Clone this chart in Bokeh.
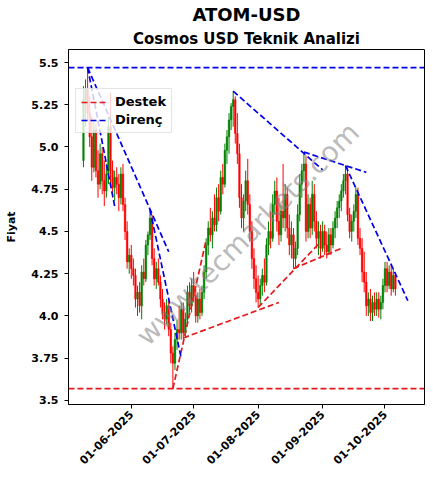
import math
import pandas as pd
from bokeh.plotting import figure
from bokeh.models import (Range1d, FixedTicker, DatetimeTickFormatter, Span, Label,
                          Legend, LegendItem, ColumnDataSource, Title)
from bokeh.embed import file_html
from bokeh.resources import INLINE

# ---------------- data ----------------
first_day = "2025-05-09"
opens = [4.92, 5.28, 5.34, 5.20, 5.06, 4.88, 5.10, 4.86, 4.78, 4.96,
         4.80, 4.74, 4.84, 5.12, 4.86, 4.76, 4.82, 4.78, 4.70, 4.84,
         4.66, 4.50, 4.32, 4.36, 4.28, 4.24, 4.10, 4.14, 4.06, 4.26,
         4.22, 4.42, 4.48, 4.58, 4.34, 4.22, 4.28, 4.20, 4.10, 4.02,
         3.98, 4.06, 3.92, 3.78, 3.72, 3.86, 3.92, 3.90, 4.04, 3.90,
         3.98, 4.14, 4.06, 4.18, 4.12, 4.00, 4.10, 4.02, 4.14, 4.26,
         4.42, 4.52, 4.48, 4.58, 4.54, 4.70, 4.62, 4.82, 4.78, 4.98,
         5.06, 5.16, 5.24, 5.28, 5.08, 4.96, 4.70, 4.58, 4.68, 4.80,
         4.66, 4.50, 4.34, 4.22, 4.14, 4.10, 4.18, 4.24, 4.20, 4.42,
         4.50, 4.46, 4.66, 4.74, 4.56, 4.48, 4.62, 4.58, 4.72, 4.52,
         4.42, 4.48, 4.34, 4.40, 4.60, 4.78, 4.86, 4.90, 4.50, 4.66,
         4.52, 4.72, 4.56, 4.46, 4.50, 4.40, 4.50, 4.42, 4.38, 4.48,
         4.42, 4.52, 4.58, 4.64, 4.68, 4.74, 4.80, 4.84, 4.60, 4.50,
         4.56, 4.62, 4.72, 4.46, 4.40, 4.26, 4.20, 4.06, 4.10, 4.02,
         4.08, 4.04, 4.10, 4.04, 4.08, 4.18, 4.28, 4.18, 4.26, 4.16,
         4.24]
highs = [5.36, 5.40, 5.47, 5.30, 5.18, 5.16, 5.14, 4.98, 5.02, 5.00,
         4.92, 4.90, 5.18, 5.32, 4.92, 4.86, 4.88, 4.84, 4.88, 4.90,
         4.70, 4.56, 4.40, 4.42, 4.34, 4.28, 4.18, 4.20, 4.30, 4.34,
         4.45, 4.50, 4.63, 4.60, 4.40, 4.32, 4.34, 4.24, 4.16, 4.08,
         4.10, 4.10, 3.96, 3.82, 3.90, 3.98, 4.06, 4.08, 4.08, 4.02,
         4.18, 4.20, 4.22, 4.26, 4.16, 4.14, 4.16, 4.18, 4.30, 4.46,
         4.56, 4.64, 4.62, 4.72, 4.76, 4.78, 4.86, 4.90, 5.02, 5.10,
         5.20, 5.26, 5.33, 5.30, 5.20, 5.02, 4.78, 4.72, 4.86, 4.93,
         4.72, 4.56, 4.40, 4.30, 4.24, 4.22, 4.28, 4.34, 4.46, 4.56,
         4.62, 4.72, 4.80, 4.82, 4.70, 4.66, 4.90, 4.78, 4.76, 4.60,
         4.56, 4.52, 4.44, 4.66, 4.84, 4.90, 4.96, 4.95, 4.72, 4.70,
         4.80, 4.78, 4.62, 4.56, 4.54, 4.56, 4.54, 4.50, 4.52, 4.52,
         4.56, 4.62, 4.68, 4.72, 4.78, 4.84, 4.89, 4.88, 4.64, 4.60,
         4.66, 4.76, 4.76, 4.52, 4.46, 4.38, 4.26, 4.14, 4.16, 4.12,
         4.14, 4.14, 4.14, 4.12, 4.22, 4.32, 4.32, 4.30, 4.30, 4.28,
         4.26]
lows = [4.88, 5.12, 5.15, 5.00, 4.80, 4.85, 4.82, 4.70, 4.75, 4.72,
        4.65, 4.70, 4.78, 4.78, 4.70, 4.68, 4.72, 4.62, 4.66, 4.62,
        4.45, 4.28, 4.25, 4.22, 4.18, 4.05, 4.00, 4.02, 3.98, 4.18,
        4.20, 4.36, 4.45, 4.30, 4.18, 4.16, 4.18, 4.05, 3.98, 3.92,
        3.95, 3.88, 3.72, 3.57, 3.68, 3.80, 3.86, 3.86, 3.86, 3.87,
        3.94, 4.02, 4.02, 4.08, 3.96, 3.96, 3.98, 4.00, 4.10, 4.22,
        4.36, 4.44, 4.40, 4.50, 4.50, 4.56, 4.60, 4.72, 4.76, 4.90,
        4.96, 5.10, 5.12, 5.02, 4.90, 4.64, 4.52, 4.50, 4.62, 4.60,
        4.44, 4.28, 4.16, 4.08, 4.05, 4.06, 4.12, 4.14, 4.18, 4.36,
        4.40, 4.44, 4.60, 4.50, 4.42, 4.44, 4.52, 4.50, 4.46, 4.36,
        4.34, 4.28, 4.29, 4.36, 4.56, 4.70, 4.80, 4.44, 4.46, 4.46,
        4.48, 4.50, 4.40, 4.36, 4.34, 4.38, 4.36, 4.34, 4.36, 4.36,
        4.40, 4.46, 4.52, 4.58, 4.62, 4.70, 4.72, 4.56, 4.46, 4.44,
        4.50, 4.58, 4.42, 4.36, 4.20, 4.14, 4.00, 4.00, 3.97, 3.97,
        4.00, 4.00, 3.99, 3.98, 4.04, 4.14, 4.14, 4.16, 4.12, 4.14,
        4.12]
closes = [5.28, 5.34, 5.20, 5.06, 4.88, 5.10, 4.86, 4.78, 4.96, 4.80,
          4.74, 4.84, 5.12, 4.86, 4.76, 4.82, 4.78, 4.70, 4.84, 4.66,
          4.50, 4.32, 4.36, 4.28, 4.24, 4.10, 4.14, 4.06, 4.26, 4.22,
          4.42, 4.48, 4.58, 4.34, 4.22, 4.28, 4.20, 4.10, 4.02, 3.98,
          4.06, 3.92, 3.78, 3.72, 3.86, 3.92, 3.90, 4.04, 3.90, 3.98,
          4.14, 4.06, 4.18, 4.12, 4.00, 4.10, 4.02, 4.14, 4.26, 4.42,
          4.52, 4.48, 4.58, 4.54, 4.70, 4.62, 4.82, 4.78, 4.98, 5.06,
          5.16, 5.24, 5.28, 5.08, 4.96, 4.70, 4.58, 4.68, 4.80, 4.66,
          4.50, 4.34, 4.22, 4.14, 4.10, 4.18, 4.24, 4.20, 4.42, 4.50,
          4.46, 4.66, 4.74, 4.56, 4.48, 4.62, 4.58, 4.72, 4.52, 4.42,
          4.48, 4.34, 4.40, 4.60, 4.78, 4.86, 4.90, 4.50, 4.66, 4.52,
          4.72, 4.56, 4.46, 4.50, 4.40, 4.50, 4.42, 4.38, 4.48, 4.42,
          4.52, 4.58, 4.64, 4.68, 4.74, 4.80, 4.84, 4.60, 4.50, 4.56,
          4.62, 4.72, 4.46, 4.40, 4.26, 4.20, 4.06, 4.10, 4.02, 4.08,
          4.04, 4.10, 4.04, 4.08, 4.18, 4.28, 4.18, 4.26, 4.16, 4.24,
          4.16]

# horizontal levels
support_level = 3.57
resistance_level = 5.47
# trend lines: start date, start price, end date, end price
res_x0 = ["2025-05-11", "2025-05-11", "2025-06-10", "2025-07-20", "2025-08-23", "2025-09-12"]
res_y0 = [5.47, 5.47, 4.63, 5.33, 4.97, 4.89]
res_x1 = ["2025-05-24", "2025-06-19", "2025-06-25", "2025-09-01", "2025-09-22", "2025-10-12"]
res_y1 = [4.65, 4.38, 3.75, 4.865, 4.85, 4.09]
sup_x0 = ["2025-06-21", "2025-06-26", "2025-08-01", "2025-08-18"]
sup_y0 = [3.57, 3.87, 4.05, 4.28]
sup_x1 = ["2025-07-07", "2025-08-11", "2025-08-30", "2025-09-10"]
sup_y1 = [4.45, 4.08, 4.425, 4.40]

tick_dates = ["2025-06-01", "2025-07-01", "2025-08-01", "2025-09-01", "2025-10-01"]

# ---------------- figure ----------------
dates = pd.date_range(first_day, periods=len(closes), freq="D")
DAY = 86400000

x_start = pd.Timestamp(first_day) - pd.Timedelta(days=7.2)
x_end = pd.Timestamp(first_day) + pd.Timedelta(days=164)

p = figure(width=432, height=488, x_axis_type="datetime",
           x_range=Range1d(x_start, x_end), y_range=Range1d(3.476, 5.577),
           output_backend="svg", toolbar_location=None,
           min_border_left=68, min_border_right=8, min_border_top=0, min_border_bottom=84)
p.title = None
p.xgrid.visible = False
p.ygrid.visible = False
p.outline_line_color = "black"
p.outline_line_width = 1
p.background_fill_color = "white"

up = [c >= o for o, c in zip(opens, closes)]
src = ColumnDataSource(dict(
    x=dates,
    top=[max(o, c) for o, c in zip(opens, closes)],
    bottom=[min(o, c) for o, c in zip(opens, closes)],
    high=highs, low=lows,
    color=["green" if u else "red" for u in up],
))
p.segment(x0="x", y0="low", x1="x", y1="high", color="color", line_width=1, source=src)
p.vbar(x="x", top="top", bottom="bottom", width=0.75 * DAY, fill_color="color",
       line_color="color", line_width=0.5, source=src)

res_src = ColumnDataSource(dict(x0=pd.to_datetime(res_x0), y0=res_y0,
                                x1=pd.to_datetime(res_x1), y1=res_y1))
sup_src = ColumnDataSource(dict(x0=pd.to_datetime(sup_x0), y0=sup_y0,
                                x1=pd.to_datetime(sup_x1), y1=sup_y1))
r_sup = p.segment(x0="x0", y0="y0", x1="x1", y1="y1", line_color="#e41a1c",
                  line_width=1.7, line_dash="6 3", source=sup_src)
r_res = p.segment(x0="x0", y0="y0", x1="x1", y1="y1", line_color="#0000ee",
                  line_width=1.7, line_dash="6 3", source=res_src)
p.add_layout(Span(location=support_level, dimension="width", line_color="#e41a1c",
                  line_width=1.7, line_dash="6 3"))
p.add_layout(Span(location=resistance_level, dimension="width", line_color="#0000ee",
                  line_width=1.7, line_dash="6 3"))

# watermark
p.add_layout(Label(x=pd.Timestamp("2025-07-27"), y=4.485, text="www.tecmarkets.com",
                   angle=45, angle_units="deg", text_align="center", text_baseline="middle",
                   text_font="DejaVu Sans", text_font_size="28px", text_color="gray",
                   text_alpha=0.55))

legend = Legend(items=[LegendItem(label="Destek", renderers=[r_sup]),
                       LegendItem(label="Direnç", renderers=[r_res])],
                location=(7, 271))
legend.label_text_font = "DejaVu Sans"
legend.label_text_font_style = "bold"
legend.label_text_font_size = "13px"
legend.label_text_color = "black"
legend.glyph_width = 27
legend.glyph_height = 12
legend.label_standoff = 7
legend.padding = 5
legend.spacing = 3
legend.margin = 0
legend.border_line_color = "#cccccc"
legend.background_fill_alpha = 0.8
legend.label_height = 14
p.add_layout(legend)

# titles
p.add_layout(Title(text="Cosmos USD Teknik Analizi", align="center",
                   text_font="DejaVu Sans", text_font_style="bold", text_font_size="15px",
                   text_color="black", standoff=4), "above")
p.add_layout(Title(text="ATOM-USD", align="center",
                   text_font="DejaVu Sans", text_font_style="bold", text_font_size="18px",
                   text_color="black", standoff=2), "above")

# axes
for ax in (p.xaxis[0], p.yaxis[0]):
    ax.major_label_text_font = "DejaVu Sans"
    ax.major_label_text_font_style = "bold"
    ax.major_label_text_font_size = "11px"
    ax.major_label_text_color = "black"
    ax.axis_line_color = "black"
    ax.major_tick_line_color = "black"
    ax.major_tick_out = 4
    ax.major_tick_in = 0
    ax.minor_tick_line_color = None

p.yaxis.ticker = FixedTicker(ticks=[3.5, 3.75, 4.0, 4.25, 4.5, 4.75, 5.0, 5.25, 5.5])
p.yaxis.major_label_overrides = {3.5: "3.5", 3.75: "3.75", 4.0: "4.0", 4.25: "4.25",
                                 4.5: "4.5", 4.75: "4.75", 5.0: "5.0", 5.25: "5.25", 5.5: "5.5"}
p.yaxis.major_label_standoff = 6
p.yaxis.axis_label = "Fiyat"
p.yaxis.axis_label_text_font = "DejaVu Sans"
p.yaxis.axis_label_text_font_style = "bold"
p.yaxis.axis_label_text_font_size = "11px"
p.yaxis.axis_label_text_color = "black"
p.yaxis.axis_label_standoff = 10

p.xaxis.ticker = FixedTicker(ticks=[pd.Timestamp(d).value // 10**6 for d in tick_dates])
fmt = "%d-%m-%Y"
p.xaxis.formatter = DatetimeTickFormatter(days=fmt, months=fmt, years=fmt, hours=fmt,
                                          minutes=fmt, seconds=fmt, milliseconds=fmt,
                                          microseconds=fmt, hourmin=fmt, minsec=fmt)
p.xaxis.major_label_orientation = math.pi / 4
p.xaxis.major_label_standoff = 4

open("out.html", "w").write(file_html(p, INLINE))
